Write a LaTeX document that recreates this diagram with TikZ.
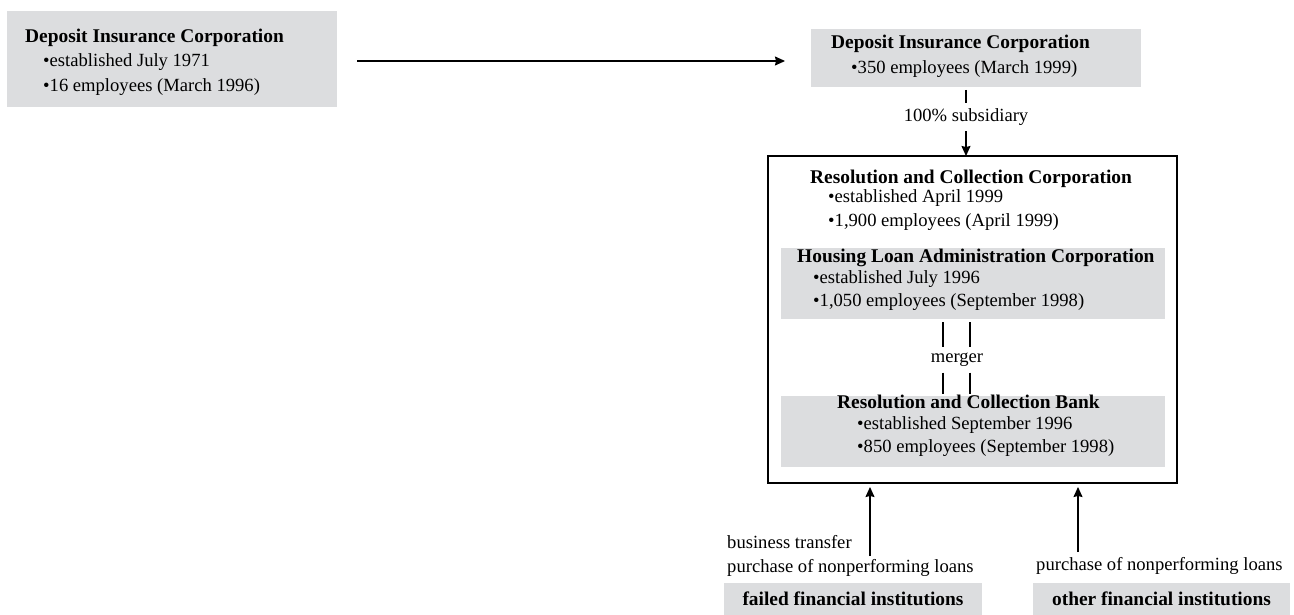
\documentclass[tikz,border=0pt]{standalone}
\usepackage{fontspec}
\setmainfont{Liberation Serif}
\usetikzlibrary{arrows.meta,calc}
\definecolor{boxgray}{RGB}{220,221,223}
\begin{document}
\begin{tikzpicture}[x=1pt,y=-1pt,
  graybox/.style={fill=boxgray, draw=none, inner sep=0pt, outer sep=0pt},
  bigbox/.style={draw=black, line width=1.1pt, inner sep=0pt, outer sep=0pt},
  ttl/.style={anchor=base west, inner sep=0pt, font=\fontsize{19.4}{22}\selectfont\bfseries},
  txt/.style={anchor=base west, inner sep=0pt, font=\fontsize{18.6}{22}\selectfont},
  btxt/.style={font=\fontsize{19.4}{22}\selectfont\bfseries},
  arr/.style={line width=1.1pt, -{Stealth[length=10pt,width=9pt,inset=1pt]}},
  ln/.style={line width=1.1pt}]
\useasboundingbox (0,0) rectangle (1294,615);

% left box
\node[graybox, minimum width=330pt, minimum height=96pt] (dic1) at (172,59) {};
\node[ttl] (dic1t) at (25,43) {Deposit Insurance Corporation};
\node[txt] (dic1a) at (43,67) {\textbullet established July 1971};
\node[txt] (dic1b) at (43,92) {\textbullet 16 employees (March 1996)};

% top right box
\node[graybox, minimum width=330pt, minimum height=58pt] (dic2) at (976,58) {};
\node[ttl] (dic2t) at (831,49) {Deposit Insurance Corporation};
\node[txt] (dic2a) at (851,74) {\textbullet 350 employees (March 1999)};

\draw[arr] ($(dic1.east)+(20,2)$) -- ($(dic2.west)+(-26,3)$);

% big box
\node[bigbox, minimum width=409pt, minimum height=327pt] (rcc) at (972.5,319.5) {};
\node[ttl] (rcct) at (810,183) {Resolution and Collection Corporation};
\node[txt] (rcca) at (828,203) {\textbullet established April 1999};
\node[txt] (rccb) at (828,226) {\textbullet 1,900 employees (April 1999)};

% subsidiary
\node[txt, anchor=center, minimum height=28pt] (sub) at (966,117) {100\% subsidiary};
\draw[ln] ($(dic2.south -| sub.north)+(0,3)$) -- (sub.north);
\draw[arr] (sub.south) -- (sub.south |- rcc.north);

% housing loan
\node[graybox, minimum width=384pt, minimum height=71pt] (hla) at (973,283.5) {};
\node[ttl] (hlat) at (797,262) {Housing Loan Administration Corporation};
\node[txt] (hlaa) at (813,283) {\textbullet established July 1996};
\node[txt] (hlab) at (813,306) {\textbullet 1,050 employees (September 1998)};

% resolution and collection bank
\node[graybox, minimum width=384pt, minimum height=71pt] (rcb) at (973,431.5) {};
\node[ttl] (rcbt) at (837,408) {Resolution and Collection Bank};
\node[txt] (rcba) at (857,429) {\textbullet established September 1996};
\node[txt] (rcbb) at (857,452) {\textbullet 850 employees (September 1998)};

% merger
\node[txt, anchor=center, minimum height=25pt] (mg) at (957,360) {merger};
\coordinate (mx1) at (943,0);
\coordinate (mx2) at (970,0);
\draw[ln] ($(hla.south -| mx1)+(0,3)$) -- (mg.north -| mx1);
\draw[ln] ($(hla.south -| mx2)+(0,3)$) -- (mg.north -| mx2);
\draw[ln] (mg.south -| mx1) -- ($(rcb.north -| mx1)+(0,-2)$);
\draw[ln] (mg.south -| mx2) -- ($(rcb.north -| mx2)+(0,-2)$);

% bottom
\node[graybox, btxt, minimum width=258pt, minimum height=32pt] (failed) at (853,599) {failed financial institutions};
\node[graybox, btxt, minimum width=257pt, minimum height=32pt] (other) at (1161.5,599) {other financial institutions};
\node[txt] (bt1) at (727,548) {business transfer};
\node[txt] (bt2) at (727,572) {purchase of nonperforming loans};
\node[txt] (ot1) at (1036,570) {purchase of nonperforming loans};

\coordinate (fa) at (870,556);
\coordinate (oa) at (1078,552);
\draw[arr, shorten >=4pt] (fa) -- (fa |- rcc.south);
\draw[arr, shorten >=4pt] (oa) -- (oa |- rcc.south);
\end{tikzpicture}
\end{document}
